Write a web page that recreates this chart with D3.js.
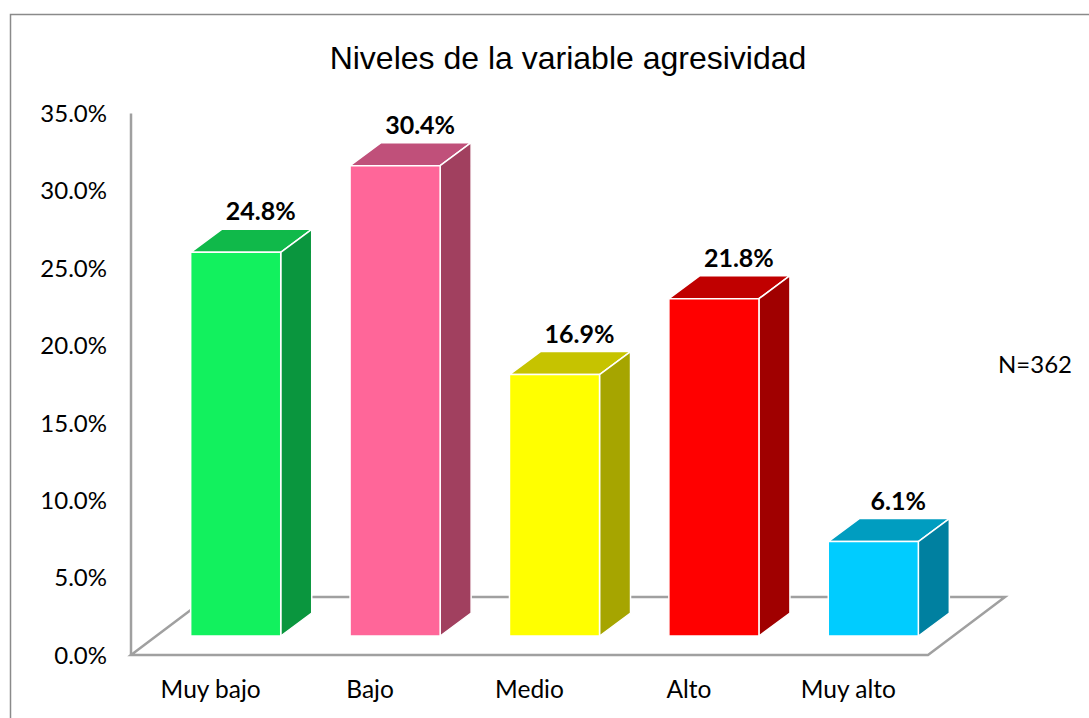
<!DOCTYPE html>
<html>
<head>
<meta charset="utf-8">
<script src="https://cdn.jsdelivr.net/npm/d3@7"></script>
<style>
  body { margin: 0; background: #fff; }
  svg { display: block; }
</style>
</head>
<body>
<div id="chart"></div>
<script>
const categories = ["Muy bajo", "Bajo", "Medio", "Alto", "Muy alto"];
const values = [24.8, 30.4, 16.9, 21.8, 6.1];
const yTicks = [0, 5, 10, 15, 20, 25, 30, 35];
const frontColors = ["#12F15E", "#FF6699", "#FFFF00", "#FF0000", "#00CCFF"];
const topColors = ["#10B94A", "#C0507A", "#C6C300", "#C00000", "#009DC0"];
const sideColors = ["#0A963E", "#A1405F", "#A6A500", "#A00000", "#0080A0"];
const title = "Niveles de la variable agresividad";
const note = "N=362";

const width = 1089, height = 718;
const calibri = "Lato, 'Open Sans', sans-serif";

// 3D floor depth and bar placement inside it
const floorDx = 77, floorDy = 58;
const barOffX = 25, barOffY = 19;
const barDx = 31, barDy = 23;

const svg = d3.select("#chart").append("svg")
  .attr("width", width)
  .attr("height", height);

svg.append("rect")
  .attr("x", 10.5).attr("y", 14.5)
  .attr("width", 1200).attr("height", 800)
  .attr("fill", "#fff")
  .attr("stroke", "#8a8a8a")
  .attr("stroke-width", 1.5);

const y = d3.scaleLinear().domain([0, 35]).range([655, 113.5]);
const x = d3.scaleBand().domain(categories)
  .range([131, 928])
  .paddingInner(0.435)
  .paddingOuter(0.2175);

svg.append("text")
  .attr("x", 568).attr("y", 69)
  .attr("text-anchor", "middle")
  .style("font-family", "'Liberation Sans', Arial, sans-serif")
  .style("font-size", "32px")
  .text(title);

// floor
const x0 = x.range()[0], x1 = x.range()[1], y0 = y(0);
svg.append("polygon")
  .attr("points", [
    [x0, y0], [x1, y0], [x1 + floorDx, y0 - floorDy], [x0 + floorDx, y0 - floorDy]
  ].join(" "))
  .attr("fill", "#fff")
  .attr("stroke", "#a0a0a0")
  .attr("stroke-width", 2.5)
  .attr("stroke-linejoin", "miter");

// vertical axis
svg.append("line")
  .attr("x1", x0).attr("x2", x0)
  .attr("y1", y(35)).attr("y2", y0)
  .attr("stroke", "#a0a0a0")
  .attr("stroke-width", 2.5);

svg.append("g").selectAll("text")
  .data(yTicks)
  .enter().append("text")
  .attr("x", 107)
  .attr("y", d => y(d))
  .attr("dy", "0.36em")
  .attr("text-anchor", "end")
  .style("font-family", calibri)
  .style("font-size", "24px")
  .style("fill", "#000")
  .text(d => d.toFixed(1) + "%");

// bars
const bars = svg.append("g").selectAll("g")
  .data(categories.map((c, i) => ({ label: c, value: values[i], i })))
  .enter().append("g");

bars.each(function(d) {
  const g = d3.select(this);
  const bx0 = x(d.label) + barOffX;
  const bx1 = bx0 + x.bandwidth();
  const base = y(0) - barOffY;
  const top = y(d.value) - barOffY;

  g.append("polygon")
    .attr("points", [[bx0, top], [bx1, top], [bx1 + barDx, top - barDy], [bx0 + barDx, top - barDy]].join(" "))
    .attr("fill", topColors[d.i]);
  g.append("polygon")
    .attr("points", [[bx1, top], [bx1 + barDx, top - barDy], [bx1 + barDx, base - barDy], [bx1, base]].join(" "))
    .attr("fill", sideColors[d.i]);
  g.append("rect")
    .attr("x", bx0).attr("y", top)
    .attr("width", x.bandwidth()).attr("height", base - top)
    .attr("fill", frontColors[d.i]);
  g.selectAll("polygon, rect")
    .attr("stroke", "#fff")
    .attr("stroke-width", 1.5)
    .attr("stroke-linejoin", "round");

  g.append("text")
    .attr("x", bx0 + x.bandwidth() / 2 + 25)
    .attr("y", top - barDy - 9)
    .attr("text-anchor", "middle")
    .style("font-family", calibri)
    .style("font-size", "25px")
    .style("font-weight", "bold")
    .style("fill", "#000")
    .text(d.value.toFixed(1) + "%");
});

// category labels
svg.append("g").selectAll("text")
  .data(categories)
  .enter().append("text")
  .attr("x", d => x(d) + x.bandwidth() / 2)
  .attr("y", 698)
  .attr("text-anchor", "middle")
  .style("font-family", calibri)
  .style("font-size", "24.5px")
  .style("fill", "#000")
  .text(d => d);

svg.append("text")
  .attr("x", 998).attr("y", 373)
  .style("font-family", calibri)
  .style("font-size", "24px")
  .style("fill", "#000")
  .text(note);
</script>
</body>
</html>
